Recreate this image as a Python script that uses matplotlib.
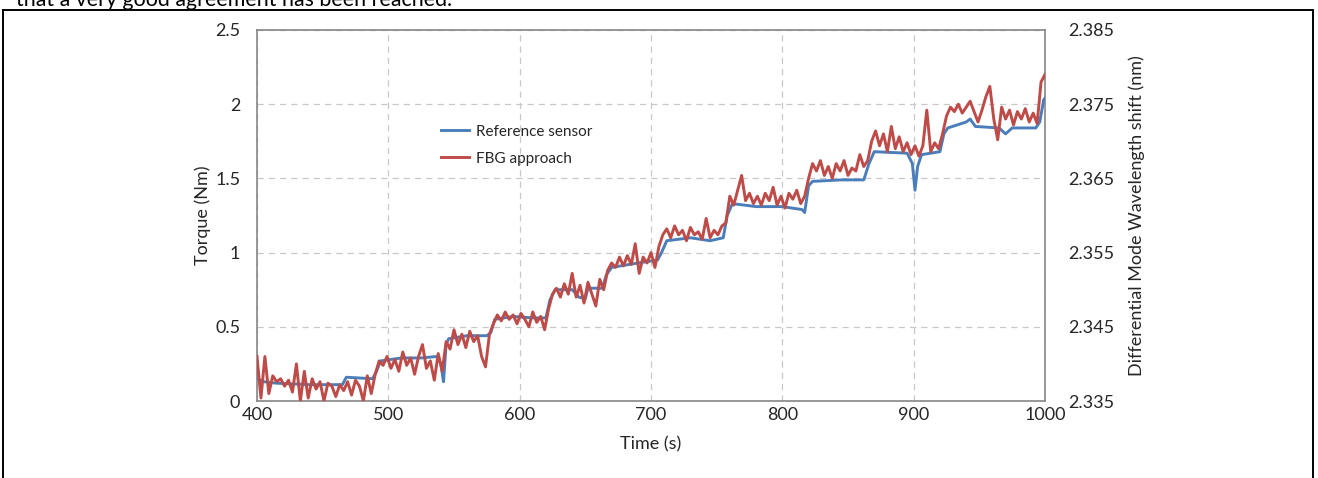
import numpy as np
import matplotlib
matplotlib.use("Agg")
import matplotlib.pyplot as plt
from matplotlib.lines import Line2D

# ---- data ----
ref_time = [400, 405, 415, 440, 465, 468, 488, 491, 494, 510, 525, 537, 540, 542, 544, 546,
            560, 575, 578, 581, 595, 610, 620, 623, 627, 640, 645, 650, 652, 663, 666, 670,
            690, 705, 708, 712, 730, 745, 755, 758, 762, 780, 800, 815, 817, 820, 823, 845,
            862, 866, 870, 895, 899, 901, 903, 906, 920, 923, 926, 940, 943, 947, 965, 970,
            975, 993, 996, 999, 1000]
ref_torque = [0.15, 0.13, 0.12, 0.11, 0.11, 0.16, 0.15, 0.20, 0.27, 0.29, 0.29, 0.30, 0.25, 0.13, 0.38, 0.42,
              0.44, 0.44, 0.46, 0.55, 0.57, 0.56, 0.56, 0.68, 0.75, 0.75, 0.70, 0.69, 0.76, 0.76, 0.85, 0.90,
              0.93, 0.95, 1.00, 1.08, 1.10, 1.08, 1.10, 1.25, 1.33, 1.31, 1.31, 1.29, 1.27, 1.45, 1.48, 1.49,
              1.49, 1.60, 1.68, 1.67, 1.60, 1.42, 1.58, 1.66, 1.68, 1.80, 1.84, 1.88, 1.90, 1.85, 1.84, 1.80,
              1.84, 1.84, 1.88, 2.03, 2.04]

fbg_start, fbg_step = 400, 3
fbg_torque = [
    0.30, 0.02, 0.30, 0.05, 0.17, 0.13, 0.15, 0.10, 0.14, 0.06,
    0.25, 0.00, 0.20, 0.02, 0.15, 0.08, 0.13, 0.00, 0.12, 0.10,
    0.03, 0.11, 0.07, 0.13, 0.04, 0.14, 0.10, 0.00, 0.17, 0.05,
    0.18,
    0.27, 0.24, 0.30, 0.22, 0.28, 0.20, 0.33, 0.24, 0.29, 0.18,
    0.30, 0.38, 0.22, 0.27, 0.14, 0.32, 0.20, 0.40, 0.35, 0.48,
    0.38, 0.45, 0.36, 0.47, 0.40, 0.44, 0.30, 0.23, 0.45, 0.52,
    0.58, 0.54, 0.60, 0.55, 0.58, 0.52, 0.59, 0.55, 0.50, 0.60,
    0.53, 0.57, 0.48, 0.62, 0.72, 0.76, 0.70, 0.79, 0.72, 0.86,
    0.70, 0.78, 0.66, 0.80, 0.72, 0.64, 0.82, 0.75, 0.88, 0.93,
    0.90, 0.97, 0.91, 0.98, 0.92, 1.06, 0.86, 0.97, 0.93, 1.00,
    0.90, 1.04, 1.12, 1.16, 1.10, 1.18, 1.12, 1.15, 1.08, 1.17,
    1.12, 1.14, 1.09, 1.23, 1.10, 1.15, 1.12, 1.18, 1.20, 1.38,
    1.32, 1.42, 1.52, 1.35, 1.40, 1.33, 1.38, 1.32, 1.40, 1.35,
    1.44, 1.32, 1.38, 1.30, 1.40, 1.36, 1.42, 1.33, 1.38, 1.50,
    1.60, 1.55, 1.62, 1.52, 1.58, 1.50, 1.60, 1.55, 1.62, 1.52,
    1.57, 1.55, 1.66, 1.58, 1.62, 1.75, 1.82, 1.72, 1.80, 1.68,
    1.85, 1.70, 1.78, 1.68, 1.74, 1.66, 1.72, 1.65, 1.72, 1.96,
    1.68, 1.74, 1.70, 1.80, 1.92, 1.98, 1.95, 2.00, 1.94, 1.98,
    2.02, 1.95, 1.88, 1.96, 2.05, 2.12, 1.90, 1.76, 1.98, 1.90,
    1.96, 1.86, 1.95, 1.90, 1.97, 1.88, 1.94, 1.87, 2.15, 2.20,
]
fbg_time = np.arange(len(fbg_torque)) * fbg_step + fbg_start

x_ticks = [400, 500, 600, 700, 800, 900, 1000]
left_ticks = [0, 0.5, 1, 1.5, 2, 2.5]
left_labels = ["0", "0.5", "1", "1.5", "2", "2.5"]
right_ticks = [2.335, 2.345, 2.355, 2.365, 2.375, 2.385]
right_labels = ["2.335", "2.345", "2.355", "2.365", "2.375", "2.385"]

# ---- figure ----
plt.rcParams['font.family'] = ['Lato', 'DejaVu Sans']
W, H = 1318, 478
fig = plt.figure(figsize=(W / 100, H / 100), dpi=100)
ax = fig.add_axes([257 / W, 1 - 401 / H, (1045 - 257) / W, (401 - 30) / H])

blue = "#4a7ebb"
red = "#be4b48"
ax.plot(ref_time, ref_torque, color=blue, lw=2.1, label="Reference sensor", zorder=3)
ax.plot(fbg_time, fbg_torque, color=red, lw=2.1, label="FBG approach", zorder=4)

fs = 13
ax.set_xlim(400, 1000)
ax.set_ylim(0, 2.5)
ax.set_xticks(x_ticks)
ax.set_yticks(left_ticks)
ax.set_yticklabels(left_labels)
ax.tick_params(axis="y", length=0, labelsize=fs, pad=12, colors="#262626")
ax.tick_params(axis="x", length=0, labelsize=fs, pad=4, colors="#262626")
ax.grid(True, color="#c8c8c8", linestyle=(0, (5, 4)), lw=0.9)
for s in ax.spines.values():
    s.set_color("#868686")
    s.set_linewidth(1.2)
ax.set_xlabel("Time (s)", fontsize=fs, labelpad=10, color="#262626")
ax.set_ylabel("Torque (Nm)", fontsize=fs, labelpad=3, color="#262626")

ax2 = ax.twinx()
ax2.set_ylim(2.335, 2.385)
ax2.set_yticks(right_ticks)
ax2.set_yticklabels(right_labels)
ax2.tick_params(length=0, labelsize=fs, pad=17, colors="#262626")
for s in ax2.spines.values():
    s.set_visible(False)
ax2.set_ylabel("Differential Mode Wavelength shift (nm)", fontsize=fs,
               labelpad=10, color="#262626")

leg = ax.legend(loc="upper left", bbox_to_anchor=(0.216, 0.782), frameon=False,
                fontsize=11, handlelength=1.85, labelspacing=0.85, handletextpad=0.45)
for t in leg.get_texts():
    t.set_color("#262626")

# outer frame of the figure box
lk = dict(color="black", lw=1.4, transform=fig.transFigure)
fig.add_artist(Line2D([3 / W, 1313 / W], [1 - 10 / H, 1 - 10 / H], **lk))
fig.add_artist(Line2D([3 / W, 3 / W], [0, 1 - 10 / H], **lk))
fig.add_artist(Line2D([1313 / W, 1313 / W], [0, 1 - 10 / H], **lk))

# partially cut text above the frame (as in the reference)
fig.text(16 / W, 1 - 6.5 / H, "that a very good agreement has been reached.",
         fontsize=15.4, va="baseline", ha="left", color="black")

fig.savefig("out.png", dpi=100)
